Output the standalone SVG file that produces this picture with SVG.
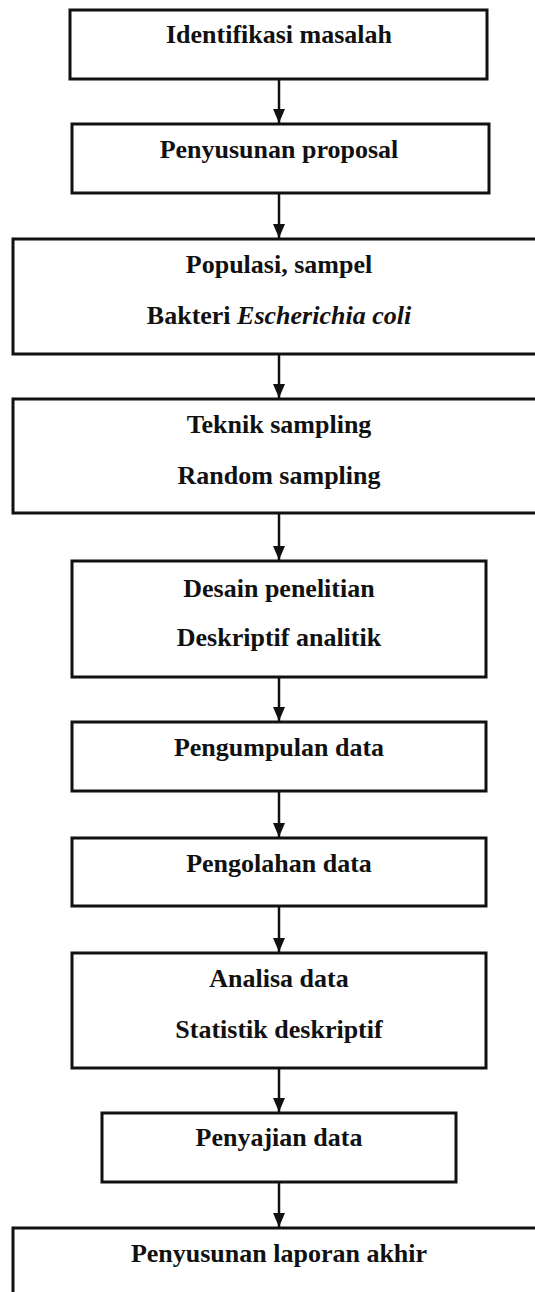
<svg xmlns="http://www.w3.org/2000/svg" width="535" height="1292" viewBox="0 0 535 1292">
  <style>
    .box { fill: #ffffff; stroke: #111111; stroke-width: 3; }
    .lbl { font-family: "Liberation Serif", "Times New Roman", serif; font-weight: bold; font-size: 26px; fill: #111111; text-anchor: middle; }
    .it { font-style: italic; }
    .edge { stroke: #111111; stroke-width: 2.5; fill: none; marker-end: url(#arrow); }
  </style>
  <defs>
    <marker id="arrow" viewBox="0 0 14 12" refX="14" refY="6" markerWidth="14" markerHeight="12" markerUnits="userSpaceOnUse" orient="auto">
      <path d="M0,0 L14,6 L0,12 z" fill="#111111"/>
    </marker>
  </defs>
  <rect width="535" height="1292" fill="#ffffff"/>

  <g id="connectors">
    <line class="edge" x1="279" y1="79" x2="279" y2="123"/>
    <line class="edge" x1="279" y1="193" x2="279" y2="238"/>
    <line class="edge" x1="279" y1="354" x2="279" y2="398"/>
    <line class="edge" x1="279" y1="513" x2="279" y2="560"/>
    <line class="edge" x1="279" y1="677" x2="279" y2="721"/>
    <line class="edge" x1="279" y1="791" x2="279" y2="837"/>
    <line class="edge" x1="279" y1="906" x2="279" y2="952"/>
    <line class="edge" x1="279" y1="1068" x2="279" y2="1112"/>
    <line class="edge" x1="279" y1="1182" x2="279" y2="1227"/>
  </g>

  <g id="identifikasi">
    <rect class="box" x="70" y="10" width="417" height="69"/>
    <text class="lbl" x="279" y="43">Identifikasi masalah</text>
  </g>
  <g id="proposal">
    <rect class="box" x="72" y="124" width="417" height="69"/>
    <text class="lbl" x="279" y="158">Penyusunan proposal</text>
  </g>
  <g id="populasi">
    <rect class="box" x="13" y="239" width="540" height="115"/>
    <text class="lbl" x="279" y="273">Populasi, sampel</text>
    <text class="lbl" x="279" y="324">Bakteri <tspan class="it">Escherichia coli</tspan></text>
  </g>
  <g id="teknik">
    <rect class="box" x="13" y="399" width="540" height="114"/>
    <text class="lbl" x="279" y="433">Teknik sampling</text>
    <text class="lbl" x="279" y="484">Random sampling</text>
  </g>
  <g id="desain">
    <rect class="box" x="72" y="561" width="414" height="116"/>
    <text class="lbl" x="279" y="597">Desain penelitian</text>
    <text class="lbl" x="279" y="646">Deskriptif analitik</text>
  </g>
  <g id="pengumpulan">
    <rect class="box" x="72" y="722" width="414" height="69"/>
    <text class="lbl" x="279" y="756">Pengumpulan data</text>
  </g>
  <g id="pengolahan">
    <rect class="box" x="72" y="838" width="414" height="68"/>
    <text class="lbl" x="279" y="872">Pengolahan data</text>
  </g>
  <g id="analisa">
    <rect class="box" x="72" y="953" width="414" height="115"/>
    <text class="lbl" x="279" y="987">Analisa data</text>
    <text class="lbl" x="279" y="1038">Statistik deskriptif</text>
  </g>
  <g id="penyajian">
    <rect class="box" x="102" y="1113" width="354" height="69"/>
    <text class="lbl" x="279" y="1146">Penyajian data</text>
  </g>
  <g id="laporan">
    <rect class="box" x="13" y="1228" width="540" height="100"/>
    <text class="lbl" x="279" y="1262">Penyusunan laporan akhir</text>
  </g>
</svg>
